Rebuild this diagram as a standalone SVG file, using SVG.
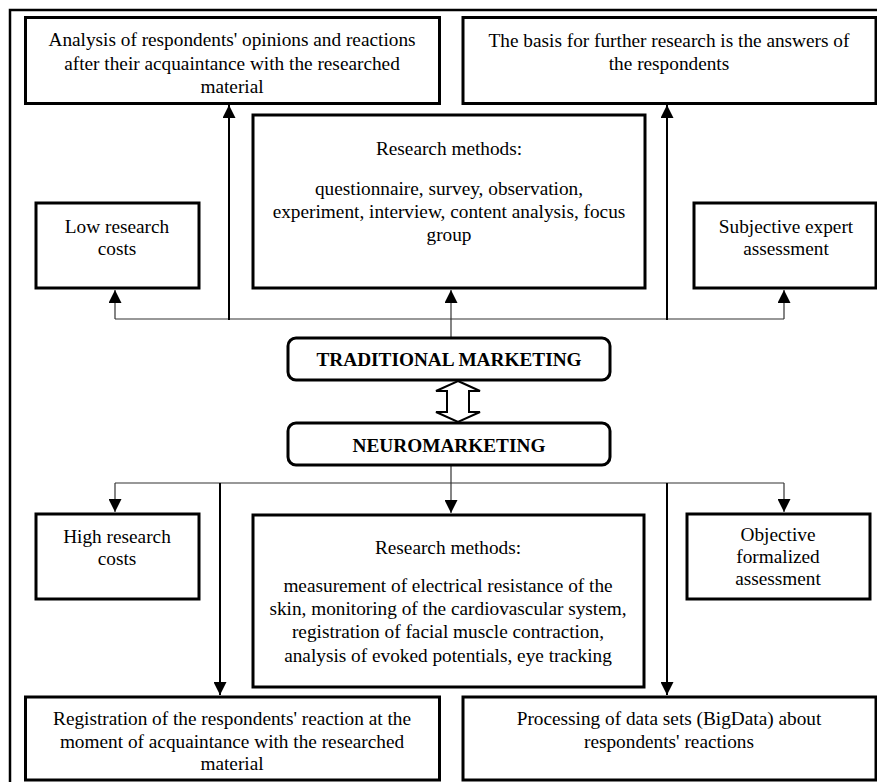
<svg xmlns="http://www.w3.org/2000/svg" width="877" height="782" viewBox="0 0 877 782">
<style>
text{font-family:"Liberation Serif","Times New Roman",serif;font-size:19.3px;fill:#000;text-anchor:middle}
.t{font-weight:bold}
.box{fill:#fff;stroke:#000;stroke-width:3}
.thin{fill:none;stroke:#333;stroke-width:1.2}
.thick{fill:none;stroke:#000;stroke-width:2}
</style>
<defs>
<marker id="ah" markerUnits="userSpaceOnUse" markerWidth="13" markerHeight="13" refX="13" refY="6.5" orient="auto">
<path d="M0,0 L13,6.5 L0,13 z" fill="#000"/>
</marker>
</defs>
<rect x="10" y="10" width="880" height="790" fill="#fff" stroke="#000" stroke-width="2.5"/>
<g id="connectors">
<path class="thin" d="M115,319 H784"/>
<path class="thin" d="M115,319 V290" marker-end="url(#ah)"/>
<path class="thin" d="M451,337 V290" marker-end="url(#ah)"/>
<path class="thin" d="M784,319 V290" marker-end="url(#ah)"/>
<path class="thick" d="M229,320 V105" marker-end="url(#ah)"/>
<path class="thick" d="M667,320 V105" marker-end="url(#ah)"/>
<path class="thin" d="M451,465 V513" marker-end="url(#ah)"/>
<path class="thin" d="M115,483 H784"/>
<path class="thin" d="M115,483 V512" marker-end="url(#ah)"/>
<path class="thin" d="M784,483 V512" marker-end="url(#ah)"/>
<path class="thick" d="M220,483 V695" marker-end="url(#ah)"/>
<path class="thick" d="M667,483 V695" marker-end="url(#ah)"/>
<polygon points="458,381 480,391 469,391 469,412 480,412 458,422 436,412 447,412 447,391 436,391" fill="#fff" stroke="#000" stroke-width="2"/>
</g>
<g id="analysis">
<rect class="box" x="25.5" y="17.5" width="414" height="86"/>
<text x="232" y="46">Analysis of respondents' opinions and reactions</text>
<text x="232" y="70">after their acquaintance with the researched</text>
<text x="232" y="93">material</text>
</g>
<g id="basis">
<rect class="box" x="463" y="17.5" width="413" height="86"/>
<text x="669" y="47">The basis for further research is the answers of</text>
<text x="669" y="70">the respondents</text>
</g>
<g id="methods-trad">
<rect class="box" x="253" y="115" width="392" height="173"/>
<text x="449" y="155">Research methods:</text>
<text x="449" y="195">questionnaire, survey, observation,</text>
<text x="449" y="218">experiment, interview, content analysis, focus</text>
<text x="449" y="241">group</text>
</g>
<g id="low">
<rect class="box" x="36" y="203" width="163" height="85"/>
<text x="117" y="233">Low research</text>
<text x="117" y="255">costs</text>
</g>
<g id="subjective">
<rect class="box" x="694" y="203" width="182" height="85"/>
<text x="786" y="233">Subjective expert</text>
<text x="786" y="255">assessment</text>
</g>
<g id="traditional">
<rect class="box" x="288" y="338" width="322" height="42" rx="8"/>
<text class="t" x="449" y="366">TRADITIONAL MARKETING</text>
</g>
<g id="neuro">
<rect class="box" x="288" y="423" width="322" height="42" rx="8"/>
<text class="t" x="449" y="452">NEUROMARKETING</text>
</g>
<g id="high">
<rect class="box" x="36" y="514" width="163" height="85"/>
<text x="117" y="543">High research</text>
<text x="117" y="565">costs</text>
</g>
<g id="methods-neuro">
<rect class="box" x="253" y="515" width="391" height="172"/>
<text x="448" y="554">Research methods:</text>
<text x="448" y="592">measurement of electrical resistance of the</text>
<text x="448" y="615">skin, monitoring of the cardiovascular system,</text>
<text x="448" y="638">registration of facial muscle contraction,</text>
<text x="448" y="662">analysis of evoked potentials, eye tracking</text>
</g>
<g id="objective">
<rect class="box" x="687" y="514" width="183" height="85"/>
<text x="778" y="541">Objective</text>
<text x="778" y="563">formalized</text>
<text x="778" y="585">assessment</text>
</g>
<g id="registration">
<rect class="box" x="25.5" y="697" width="414" height="83"/>
<text x="232" y="725">Registration of the respondents' reaction at the</text>
<text x="232" y="748">moment of acquaintance with the researched</text>
<text x="232" y="770">material</text>
</g>
<g id="processing">
<rect class="box" x="463" y="697" width="413" height="83"/>
<text x="669" y="725">Processing of data sets (BigData) about</text>
<text x="669" y="748">respondents' reactions</text>
</g>
</svg>
